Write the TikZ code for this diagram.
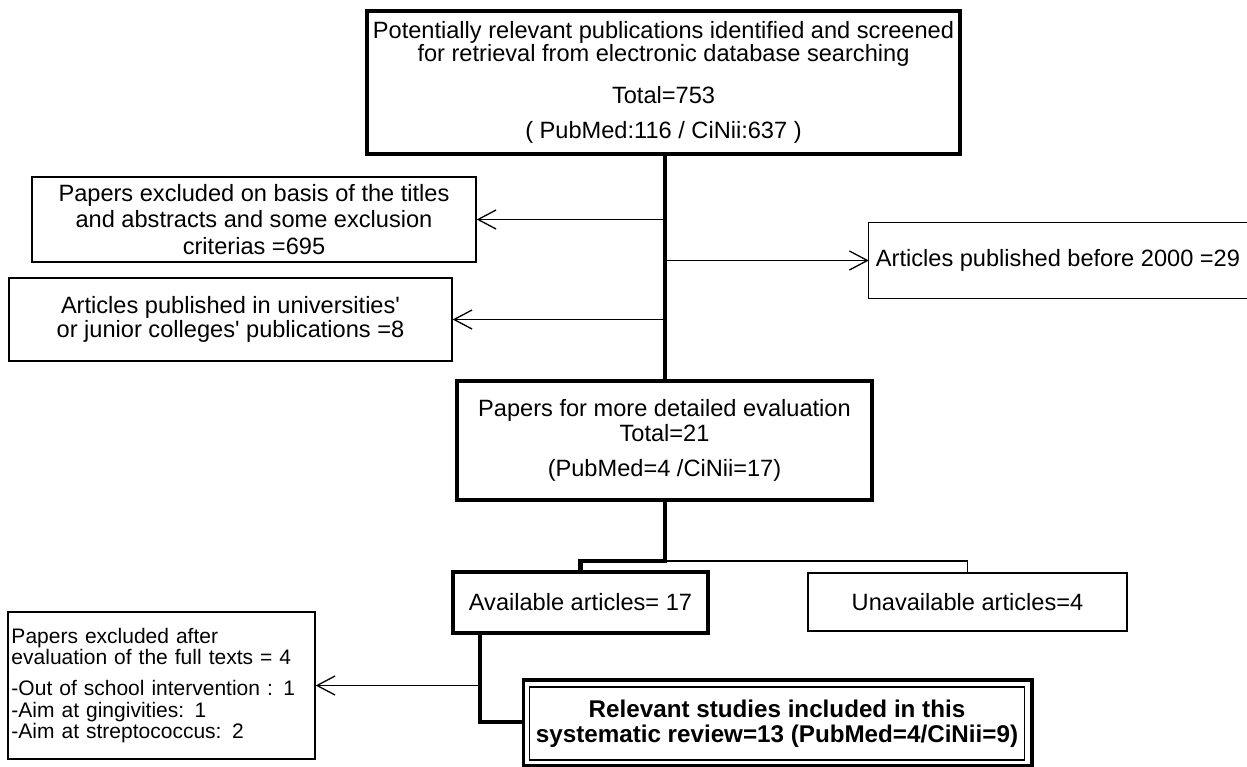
\documentclass[tikz,border=0pt]{standalone}
\usepackage{fontspec}
\newfontfamily\arialf{Liberation Sans}
\usetikzlibrary{arrows.meta,calc}
\tikzset{
  heavy/.style={line width=4.5pt, line join=miter},
  light/.style={line width=1.3pt},
  boxbase/.style={rectangle, inner sep=0pt, align=center},
  thickbox/.style={boxbase, draw, heavy},
  thinbox/.style={boxbase, draw, light},
  tip/.style={-{Straight Barb[length=18pt,width=19pt,line width=1.3pt]}},
}
\begin{document}
\begin{tikzpicture}[x=1pt,y=-1pt]
\useasboundingbox (0,0) rectangle (1247,766);

% main column
\node[thickbox, minimum width=593, minimum height=143,
      font=\arialf\fontsize{23.6}{20.5}\selectfont] (top) at (663.5,82.5)
  {Potentially relevant publications identified and screened\\
   for retrieval from electronic database searching\\[19.5pt]
   Total=753\\[14.5pt]
   ( PubMed:116 / CiNii:637 )};

\node[thickbox, minimum width=415, minimum height=119,
      font=\arialf\fontsize{23.6}{25}\selectfont] (mid) at (664.5,440.5)
  {Papers for more detailed evaluation\\
   Total=21\\[10pt]
   (PubMed=4 /CiNii=17)};

% exclusion boxes
\node[thinbox, minimum width=444, minimum height=85,
      font=\arialf\fontsize{23.6}{26.5}\selectfont] (ex1) at (254,219.5)
  {Papers excluded on basis of the titles\\
   and abstracts and some exclusion\\
   criterias =695};

\node[boxbase, minimum width=378, minimum height=75,
      font=\arialf\fontsize{23.6}{25}\selectfont] (r1) at (1058,260.5)
  {Articles published before 2000 =29};

\node[thinbox, minimum width=443, minimum height=83,
      font=\arialf\fontsize{23.6}{24}\selectfont] (ex3) at (230.5,319.5)
  {Articles published in universities'\\
   or junior colleges' publications =8};

% lower part
\node[thickbox, minimum width=255, minimum height=61,
      font=\arialf\fontsize{23.6}{25}\selectfont] (avail) at (580.5,602.5)
  {Available articles= 17};

\node[thinbox, minimum width=319, minimum height=58,
      font=\arialf\fontsize{23.6}{25}\selectfont] (unav) at (967.5,602)
  {Unavailable articles=4};

\node[thinbox, minimum width=307, minimum height=147, inner xsep=3.5pt,
      text width=300pt, align=left,
      font=\arialf\fontsize{21}{21.5}\selectfont] (ex4) at (161.5,685.5)
  {Papers excluded after\\
   evaluation of the full texts = 4\\[9.5pt]
   -Out of school intervention : 1\\
   -Aim at gingivities: 1\\
   -Aim at streptococcus: 2};

\node[thinbox, line width=1.6pt, minimum width=495, minimum height=73,
      font=\arialf\bfseries\fontsize{24.2}{25}\selectfont] (rel) at (777,723.5)
  {Relevant studies included in this\\
   systematic review=13 (PubMed=4/CiNii=9)};
\coordinate (relO) at ($(rel.north west)+(-5,-6)$);
\draw[line width=3.5pt] (relO) rectangle ($(rel.south east)+(6.5,5)$);

% partial border of the right box (cut by the page edge)
\draw[light] (r1.north east) -- (r1.north west) -- (r1.south west) -- (r1.south east);

% connectors
\coordinate (tk) at (665,0);
\coordinate (split) at (665,561);
\coordinate (bx) at (480,722);

\draw[heavy] (top.south -| tk) -- (mid.north -| tk);
\draw[light, tip] (ex1.east -| tk) -- (ex1.east);
\draw[light, tip] (r1.west -| tk) -- (r1.west);
\draw[light, tip] (ex3.east -| tk) -- (ex3.east);

\draw[light] (split) -| (unav.north);
\draw[heavy] (mid.south -| split) -- (split) -| (avail.north);

\draw[light, tip] (bx |- ex4.east) -- (ex4.east);
\draw[heavy] (avail.south -| bx) -- (bx) -- (bx -| relO);
\end{tikzpicture}
\end{document}
